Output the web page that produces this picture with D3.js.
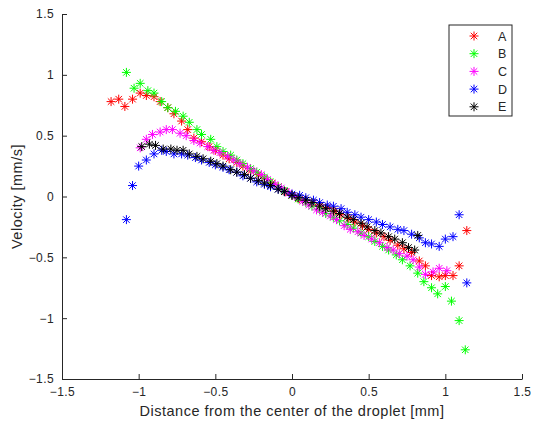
<!DOCTYPE html>
<html>
<head>
<meta charset="utf-8">
<script src="https://cdn.jsdelivr.net/npm/d3@7"></script>
<style>
  body { margin: 0; background: #fff; }
  svg { font-family: "Liberation Sans", Arial, sans-serif; }
</style>
</head>
<body>
<div id="chart"></div>
<script>
// --- Data ---
const seriesNames = ['A', 'B', 'C', 'D', 'E'];
const seriesColors = ['#ff0000', '#00ff00', '#ff00ff', '#0000ff', '#000000'];

const seriesA = [
  [-1.18, 0.78], [-1.13, 0.80], [-1.09, 0.74], [-1.04, 0.80], [-0.99, 0.85], [-0.95, 0.83],
  [-0.90, 0.82], [-0.86, 0.78], [-0.81, 0.73], [-0.77, 0.68], [-0.72, 0.62], [-0.68, 0.55],
  [-0.64, 0.48], [-0.59, 0.45], [-0.54, 0.41], [-0.50, 0.38], [-0.45, 0.34], [-0.41, 0.31],
  [-0.36, 0.28], [-0.32, 0.25], [-0.27, 0.21], [-0.22, 0.18], [-0.18, 0.15], [-0.13, 0.11],
  [-0.09, 0.08], [-0.04, 0.04], [0.00, 0.01], [0.05, -0.02], [0.09, -0.03], [0.14, -0.05],
  [0.18, -0.07], [0.23, -0.09], [0.28, -0.12], [0.32, -0.15], [0.37, -0.18], [0.41, -0.21],
  [0.46, -0.24], [0.50, -0.27], [0.55, -0.30], [0.60, -0.33], [0.64, -0.36], [0.69, -0.40],
  [0.73, -0.43], [0.78, -0.46], [0.83, -0.53], [0.87, -0.57], [0.91, -0.65], [0.96, -0.66],
  [1.00, -0.65], [1.05, -0.65], [1.09, -0.57], [1.14, -0.28]
];
const seriesB = [
  [-1.08, 1.02], [-1.03, 0.89], [-0.99, 0.93], [-0.94, 0.87], [-0.90, 0.85], [-0.85, 0.78],
  [-0.81, 0.73], [-0.76, 0.70], [-0.71, 0.66], [-0.67, 0.61], [-0.62, 0.55], [-0.59, 0.51],
  [-0.53, 0.47], [-0.49, 0.41], [-0.45, 0.37], [-0.40, 0.34], [-0.36, 0.30], [-0.32, 0.27],
  [-0.27, 0.23], [-0.23, 0.20], [-0.18, 0.16], [-0.14, 0.12], [-0.09, 0.08], [-0.05, 0.05],
  [0.00, 0.01], [0.04, -0.02], [0.09, -0.05], [0.13, -0.08], [0.18, -0.11], [0.22, -0.14],
  [0.27, -0.17], [0.31, -0.20], [0.36, -0.23], [0.40, -0.26], [0.45, -0.30], [0.50, -0.33],
  [0.54, -0.37], [0.59, -0.41], [0.63, -0.44], [0.68, -0.48], [0.72, -0.52], [0.77, -0.57],
  [0.82, -0.63], [0.86, -0.70], [0.91, -0.75], [0.95, -0.80], [1.00, -0.74], [1.04, -0.86],
  [1.09, -1.02], [1.13, -1.26]
];
const seriesC = [
  [-0.99, 0.40], [-0.95, 0.47], [-0.91, 0.51], [-0.86, 0.53], [-0.82, 0.55], [-0.78, 0.55],
  [-0.73, 0.52], [-0.69, 0.50], [-0.64, 0.46], [-0.60, 0.44], [-0.55, 0.41], [-0.51, 0.38],
  [-0.47, 0.36], [-0.42, 0.33], [-0.38, 0.30], [-0.34, 0.27], [-0.29, 0.24], [-0.25, 0.21],
  [-0.20, 0.18], [-0.16, 0.14], [-0.11, 0.10], [-0.07, 0.07], [-0.02, 0.03], [0.02, 0.00],
  [0.07, -0.04], [0.11, -0.07], [0.16, -0.11], [0.20, -0.13], [0.25, -0.16], [0.29, -0.19],
  [0.34, -0.24], [0.38, -0.27], [0.43, -0.29], [0.47, -0.32], [0.52, -0.35], [0.57, -0.38],
  [0.62, -0.42], [0.66, -0.44], [0.70, -0.47], [0.75, -0.49], [0.79, -0.52], [0.83, -0.58],
  [0.87, -0.64], [0.92, -0.62], [0.96, -0.59], [1.01, -0.61]
];
const seriesD = [
  [-1.08, -0.19], [-1.04, 0.09], [-1.00, 0.25], [-0.95, 0.30], [-0.90, 0.35], [-0.85, 0.38],
  [-0.82, 0.37], [-0.77, 0.35], [-0.72, 0.35], [-0.68, 0.34], [-0.63, 0.32], [-0.59, 0.30],
  [-0.54, 0.28], [-0.50, 0.26], [-0.45, 0.24], [-0.41, 0.22], [-0.36, 0.20], [-0.32, 0.17],
  [-0.27, 0.15], [-0.23, 0.12], [-0.18, 0.10], [-0.14, 0.08], [-0.09, 0.06], [-0.05, 0.04],
  [0.00, 0.02], [0.05, 0.01], [0.09, -0.01], [0.14, -0.03], [0.18, -0.05], [0.23, -0.07],
  [0.27, -0.08], [0.32, -0.10], [0.36, -0.13], [0.41, -0.15], [0.45, -0.17], [0.50, -0.19],
  [0.55, -0.21], [0.59, -0.23], [0.64, -0.25], [0.69, -0.27], [0.73, -0.28], [0.78, -0.31],
  [0.83, -0.34], [0.87, -0.38], [0.91, -0.39], [0.96, -0.41], [1.00, -0.35], [1.05, -0.33],
  [1.09, -0.15], [1.14, -0.71]
];
const seriesE = [
  [-0.98, 0.41], [-0.93, 0.43], [-0.89, 0.42], [-0.84, 0.39], [-0.79, 0.39], [-0.75, 0.38],
  [-0.71, 0.38], [-0.67, 0.35], [-0.62, 0.33], [-0.58, 0.31], [-0.53, 0.29], [-0.49, 0.27],
  [-0.45, 0.25], [-0.40, 0.22], [-0.36, 0.20], [-0.31, 0.18], [-0.27, 0.15], [-0.22, 0.13],
  [-0.18, 0.11], [-0.14, 0.09], [-0.09, 0.06], [-0.05, 0.04], [0.00, 0.01], [0.04, -0.01],
  [0.09, -0.03], [0.13, -0.05], [0.18, -0.08], [0.22, -0.10], [0.27, -0.12], [0.31, -0.14],
  [0.36, -0.17], [0.40, -0.19], [0.45, -0.22], [0.49, -0.25], [0.54, -0.28], [0.58, -0.30],
  [0.63, -0.33], [0.67, -0.35], [0.72, -0.38], [0.76, -0.42], [0.80, -0.44], [0.82, -0.32]
];
const allSeries = [seriesA, seriesB, seriesC, seriesD, seriesE];

const xTicks = [-1.5, -1, -0.5, 0, 0.5, 1, 1.5];
const yTicks = [-1.5, -1, -0.5, 0, 0.5, 1, 1.5];
const xLabel = 'Distance from the center of the droplet [mm]';
const yLabel = 'Velocity [mm/s]';

// --- Layout ---
const width = 536, height = 428;
const axisColor = '#262626';

const svg = d3.select('#chart').append('svg')
  .attr('width', width)
  .attr('height', height);

const x = d3.scaleLinear().domain([-1.5, 1.5]).range([62, 522]);
const y = d3.scaleLinear().domain([-1.5, 1.5]).range([379, 14]);

// asterisk marker: plus + cross
function starPath(r) {
  const k = r * 0.72;
  return `M${-r},0L${r},0M0,${-r}L0,${r}M${-k},${-k}L${k},${k}M${-k},${k}L${k},${-k}`;
}
const marker = starPath(4.5);

// --- Axes (box off, ticks pointing inward) ---
const fmt = d => d3.format('')(d);

const xAxis = svg.append('g')
  .attr('transform', `translate(0,${y(-1.5)})`)
  .call(d3.axisBottom(x).tickValues(xTicks).tickFormat(fmt).tickSizeInner(-5).tickSizeOuter(0).tickPadding(8));

const yAxis = svg.append('g')
  .attr('transform', `translate(${x(-1.5)},0)`)
  .call(d3.axisLeft(y).tickValues(yTicks).tickFormat(fmt).tickSizeInner(-5).tickSizeOuter(0).tickPadding(8));

[xAxis, yAxis].forEach(a => {
  a.select('.domain').attr('stroke', axisColor).attr('stroke-width', 1);
  a.selectAll('.tick line').attr('stroke', axisColor);
  a.selectAll('.tick text')
    .attr('fill', axisColor)
    .style('font-size', '12px')
    .style('letter-spacing', '0.4px')
    .style('font-family', '"Liberation Sans", Arial, sans-serif');
});

// axis titles
svg.append('text')
  .attr('x', x(0))
  .attr('y', 416)
  .attr('text-anchor', 'middle')
  .attr('fill', axisColor)
  .style('font-size', '14.5px')
  .style('letter-spacing', '0.5px')
  .text(xLabel);

svg.append('text')
  .attr('transform', `translate(22,${y(0)}) rotate(-90)`)
  .attr('text-anchor', 'middle')
  .attr('fill', axisColor)
  .style('font-size', '14.5px')
  .style('letter-spacing', '0.5px')
  .text(yLabel);

// --- Points ---
allSeries.forEach((data, i) => {
  svg.append('g')
    .selectAll('path')
    .data(data)
    .join('path')
    .attr('d', marker)
    .attr('transform', d => `translate(${x(d[0])},${y(d[1])})`)
    .attr('fill', 'none')
    .attr('stroke', seriesColors[i])
    .attr('stroke-width', 1);
});

// --- Legend ---
const legend = svg.append('g').attr('transform', 'translate(449,25)');
legend.append('rect')
  .attr('width', 63)
  .attr('height', 91)
  .attr('fill', '#fff')
  .attr('stroke', axisColor)
  .attr('stroke-width', 1);

seriesNames.forEach((name, i) => {
  const row = legend.append('g').attr('transform', `translate(0,${11 + i * 17.7})`);
  row.append('path')
    .attr('d', marker)
    .attr('transform', 'translate(25,0)')
    .attr('fill', 'none')
    .attr('stroke', seriesColors[i])
    .attr('stroke-width', 1);
  row.append('text')
    .attr('x', 49)
    .attr('y', 4.5)
    .attr('fill', axisColor)
    .style('font-size', '12.5px')
    .text(name);
});
</script>
</body>
</html>
